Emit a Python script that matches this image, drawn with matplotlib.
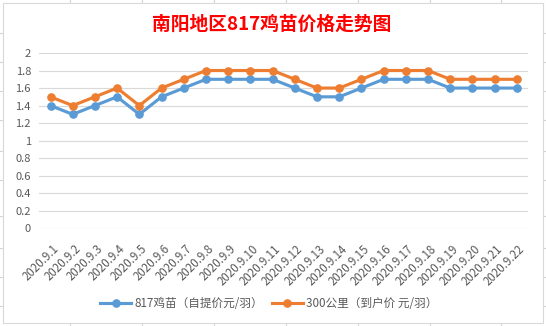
import matplotlib
matplotlib.use("Agg")
import matplotlib.pyplot as plt
from matplotlib.lines import Line2D
from matplotlib.patches import Rectangle
import matplotlib.transforms as mtransforms

dates = ["2020.9.1", "2020.9.2", "2020.9.3", "2020.9.4", "2020.9.5", "2020.9.6",
         "2020.9.7", "2020.9.8", "2020.9.9", "2020.9.10", "2020.9.11", "2020.9.12",
         "2020.9.13", "2020.9.14", "2020.9.15", "2020.9.16", "2020.9.17", "2020.9.18",
         "2020.9.19", "2020.9.20", "2020.9.21", "2020.9.22"]
self_pickup = [1.4, 1.3, 1.4, 1.5, 1.3, 1.5, 1.6, 1.7, 1.7, 1.7, 1.7, 1.6,
               1.5, 1.5, 1.6, 1.7, 1.7, 1.7, 1.6, 1.6, 1.6, 1.6]
delivered = [1.5, 1.4, 1.5, 1.6, 1.4, 1.6, 1.7, 1.8, 1.8, 1.8, 1.8, 1.7,
             1.6, 1.6, 1.7, 1.8, 1.8, 1.8, 1.7, 1.7, 1.7, 1.7]
series_names = ["817鸡苗（自提价元/羽）", "300公里（到户价 元/羽）"]
yticks = [0, 0.2, 0.4, 0.6, 0.8, 1, 1.2, 1.4, 1.6, 1.8, 2]
ytick_labels = ["0", "0.2", "0.4", "0.6", "0.8", "1", "1.2", "1.4", "1.6", "1.8", "2"]
title = "南阳地区817鸡苗价格走势图"

FONTS = ["Noto Sans CJK SC", "DejaVu Sans"]
plt.rcParams['font.family'] = FONTS

W, H = 546, 326
fig = plt.figure(figsize=(W / 100, H / 100), dpi=100)
fig.patch.set_facecolor("white")

def px(x, y):
    return x / W, 1 - y / H

# spreadsheet background cell lines (outside chart frame)
gcol = "#D4D4D4"
for yy in [33, 62, 91, 120, 151, 180, 216, 248, 277, 306]:
    for x0, x1 in [(0, 3), (543, 546)]:
        fig.add_artist(Line2D([x0 / W, x1 / W], [1 - yy / H, 1 - yy / H], color=gcol, lw=0.8,
                              zorder=-2))
for xx in [70, 142, 214, 286, 358, 430, 501]:
    for y0, y1 in [(0, 3), (323, 326)]:
        fig.add_artist(Line2D([xx / W, xx / W], [1 - y0 / H, 1 - y1 / H], color=gcol, lw=0.8,
                              zorder=-2))

# chart frame
fig.add_artist(Rectangle(px(3, 323), 540 / W, 320 / H, transform=fig.transFigure,
                         facecolor="white", edgecolor="#D9D9D9", lw=0.8, zorder=-1))

left, right, top, bottom = 39.4, 528, 53, 228.3
ax = fig.add_axes([left / W, 1 - bottom / H, (right - left) / W, (bottom - top) / H])
ax.set_facecolor("none")
ax.set_zorder(1)

x = list(range(len(dates)))
ax.plot(x, self_pickup, color="#5B9BD5", lw=2.25, marker="o", ms=5.2, label=series_names[0],
        solid_joinstyle="round", zorder=3)
ax.plot(x, delivered, color="#ED7D31", lw=2.25, marker="o", ms=5.2, label=series_names[1],
        solid_joinstyle="round", zorder=3)

ax.set_xlim(-0.5, len(dates) - 0.5)
ax.set_ylim(0, 2)
ax.set_yticks(yticks)
ax.set_yticklabels(ytick_labels)
ax.yaxis.grid(True, color="#D9D9D9", lw=0.8)
ax.set_axisbelow(True)
for s in ax.spines.values():
    s.set_visible(False)
ax.tick_params(axis="y", length=0, pad=6, labelsize=8, labelcolor="#595959")
ax.set_xticks(x)
ax.set_xticklabels(dates, rotation=45, ha="right", va="center", rotation_mode="anchor",
                   fontsize=8.3, color="#595959")
ax.tick_params(axis="x", length=0, pad=13.5)
shift = mtransforms.ScaledTranslation(6 / 100, 0, fig.dpi_scale_trans)
for lab in ax.get_xticklabels():
    lab.set_transform(lab.get_transform() + shift)

fig.text(272 / W, 1 - 24.5 / H, title, color="#FF0000", fontsize=13.5, fontweight="bold",
         ha="center", va="center")

leg = fig.legend(loc="center", bbox_to_anchor=(269 / W, 1 - 303.5 / H), ncol=2, frameon=False,
                 fontsize=8.4, handlelength=2.6, columnspacing=0.8, handletextpad=0.3)
for t in leg.get_texts():
    t.set_color("#595959")

fig.savefig("out.png", dpi=100)
